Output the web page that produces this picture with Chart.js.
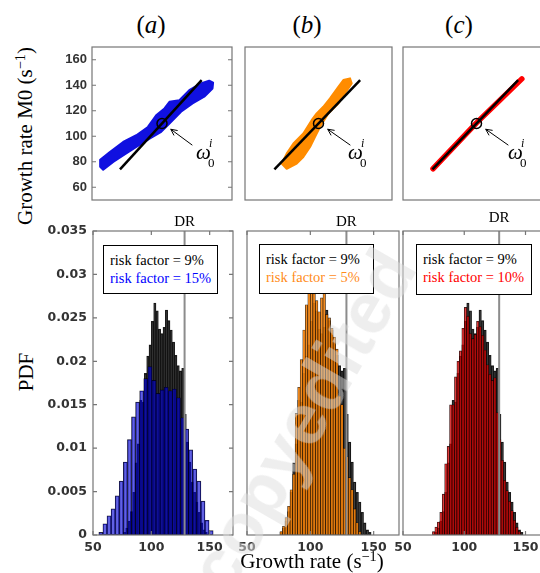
<!DOCTYPE html>
<html>
<head>
<meta charset="utf-8">
<script src="https://cdn.jsdelivr.net/npm/chart.js@4.4.1/dist/chart.umd.min.js"></script>
<style>
html, body { margin: 0; padding: 0; background: #fff; width: 540px; height: 573px; overflow: hidden; }
#fig { position: relative; width: 540px; height: 573px; font-family: "Liberation Serif", "DejaVu Serif", serif; }
canvas { position: absolute; }
.txt { position: absolute; white-space: nowrap; color: #000; line-height: 1; }
.ttl { font-size: 25px; transform: translate(-50%, -50%); }
.ax { font-size: 21px; transform: translate(-50%, -50%); }
.axv { font-size: 21px; transform: translate(-50%, -50%) rotate(-90deg); }
.dr { font-size: 15px; transform: translate(-50%, -50%); }
sup { font-size: 0.68em; vertical-align: 0; position: relative; top: -0.5em; }
.om { font-size: 21px; font-style: italic; }
.omi { font-size: 12px; font-style: italic; }
.om0 { font-size: 13px; }
.leg { position: absolute; background: #fff; border: 1px solid #000; box-sizing: border-box;
       font-size: 14.5px; line-height: 17.5px; padding: 6px 0 0 6px; white-space: nowrap; z-index: 5; }
.wm { position: absolute; left: 302px; top: 420px; transform: translate(-50%, -50%) rotate(-60deg);
      font: bold 72px "Liberation Sans", sans-serif; color: rgba(222,222,222,0.5); white-space: nowrap;
      z-index: 10; pointer-events: none; }
</style>
</head>
<body>
<div id="fig">
  <canvas id="topA" width="194" height="163" style="left:42px;top:40px"></canvas>
  <canvas id="topB" width="155" height="163" style="left:241px;top:40px"></canvas>
  <canvas id="topC" width="155" height="163" style="left:399px;top:40px"></canvas>
  <canvas id="botA" width="201" height="337" style="left:38px;top:223px"></canvas>
  <canvas id="botB" width="170" height="337" style="left:235px;top:223px"></canvas>
  <canvas id="botC" width="165" height="337" style="left:391px;top:223px"></canvas>

  <div class="txt ttl" style="left:151px;top:24px">(<i>a</i>)</div>
  <div class="txt ttl" style="left:307px;top:24px">(<i>b</i>)</div>
  <div class="txt ttl" style="left:459px;top:24px">(<i>c</i>)</div>

  <div class="txt axv" style="left:25px;top:136px">Growth rate M0 (s<sup>−1</sup>)</div>
  <div class="txt axv" style="left:26px;top:372px">PDF</div>
  <div class="txt ax" style="left:312px;top:561px">Growth rate (s<sup>−1</sup>)</div>

  <div class="txt om" style="left:196px;top:142px">ω</div>
  <div class="txt omi" style="left:209px;top:137px">i</div>
  <div class="txt om0" style="left:208px;top:156px">0</div>
  <div class="txt om" style="left:348px;top:142px">ω</div>
  <div class="txt omi" style="left:361px;top:137px">i</div>
  <div class="txt om0" style="left:360px;top:156px">0</div>
  <div class="txt om" style="left:508px;top:142px">ω</div>
  <div class="txt omi" style="left:521px;top:137px">i</div>
  <div class="txt om0" style="left:520px;top:156px">0</div>

  <div class="txt dr" id="drA" style="top:221px">DR</div>
  <div class="txt dr" id="drB" style="top:221px">DR</div>
  <div class="txt dr" id="drC" style="top:217px">DR</div>

  <div class="leg" style="left:103px;top:245px;width:115px;height:49px">
    <div>risk factor = 9%</div><div style="color:#0000ff">risk factor = 15%</div>
  </div>
  <div class="leg" style="left:259px;top:244px;width:115px;height:50px">
    <div>risk factor = 9%</div><div style="color:#ff8c1a">risk factor = 5%</div>
  </div>
  <div class="leg" style="left:416px;top:244px;width:116px;height:51px">
    <div>risk factor = 9%</div><div style="color:#ff0000">risk factor = 10%</div>
  </div>

  <div class="wm">copyedited</div>
</div>

<script>
// axis ranges and ticks
const AXIS_MIN = 50;
const AXIS_MAX = 170;
const M0_TICKS = [60, 80, 100, 120, 140, 160];
const RATE_TICKS = [50, 100, 150];
const PDF_TICKS = [0, 0.005, 0.01, 0.015, 0.02, 0.025, 0.03, 0.035];
const DR = 128.5;

// top row: nominal point, arrow to it, reference line
const OMEGA0_X = [110];
const OMEGA0_Y = [110];
const ARROW_X = [136, 117.5];
const ARROW_Y = [93, 105.5];
const REF_LINE_X = [74, 144];
const REF_LINE_Y = [74, 144];

// outlines of the sample clouds
const cloudA_X = [57, 57, 65.3, 76.7, 88, 97.9, 105, 112.1, 116.4, 124.9, 133.4, 143.3, 150.4, 153.8, 153.3, 146.2, 136.2, 126.3, 116.4, 109.3, 99.4, 88, 76.7, 68.2, 59.6, 57];
const cloudA_Y = [76, 81.6, 87.7, 95.5, 100.8, 107.3, 116.5, 121.8, 127, 128.3, 136.2, 141.5, 143.6, 142, 137.5, 131, 125.7, 119.2, 110, 103.4, 98.2, 91.6, 85, 79.8, 73.7, 76];
const cloudB_X = [79.9, 84, 89.5, 97.6, 104.4, 108.5, 113.9, 119.4, 126.2, 130.3, 135.7, 137.1, 131.6, 126.2, 118, 111.2, 107.1, 103.1, 97.6, 92.2, 84, 79.9];
const cloudB_Y = [78.5, 86.4, 94.3, 102.1, 112.6, 117.9, 123.1, 129.7, 138.8, 144.1, 145.4, 141.5, 133.6, 125.7, 117.9, 107.3, 99.4, 91.6, 83.7, 78.5, 74.5, 78.5];
const cloudC_X = [74.5, 110, 147];
const cloudC_Y = [74.5, 110.5, 145];

// histograms: reference (risk factor 9%)
const refBins = [76, 78, 80, 82, 84, 86, 88, 90, 92, 94, 96, 98, 100, 102, 104, 106, 108, 110, 112, 114, 116, 118, 120, 122, 124, 126, 128, 130, 132, 134, 136, 138, 140, 142, 144, 146];
const refPdf = [0.0003, 0.0008, 0.0016, 0.0027, 0.0049, 0.0083, 0.0105, 0.0155, 0.0153, 0.0186, 0.0206, 0.0219, 0.0246, 0.0267, 0.0258, 0.0237, 0.0232, 0.0239, 0.0259, 0.0247, 0.0236, 0.0222, 0.0207, 0.0195, 0.0189, 0.0192, 0.0139, 0.0107, 0.0084, 0.0061, 0.0049, 0.0038, 0.0026, 0.0014, 0.0006, 0.0003];

// risk factor 15%
const binsA = [58.5, 62, 65.5, 69, 72.5, 76, 79.5, 83, 86.5, 90, 93.5, 97, 100.5, 104, 107.5, 111, 114.5, 118, 121.5, 125, 128.5, 132, 135.5, 139, 142.5, 146, 149.5, 153];
const pdfA = [0.0003, 0.0013, 0.0022, 0.0030, 0.0045, 0.0062, 0.0084, 0.0110, 0.0136, 0.0153, 0.0166, 0.0180, 0.0194, 0.0178, 0.0163, 0.0167, 0.0170, 0.0166, 0.0168, 0.0158, 0.0135, 0.0122, 0.0098, 0.0076, 0.0062, 0.0039, 0.0017, 0.0005];

// risk factor 5%
const binsB = [78, 80, 82, 84, 86, 88, 90, 92, 94, 96, 98, 100, 102, 104, 106, 108, 110, 112, 114, 116, 118, 120, 122, 124, 126, 128, 130, 132, 134, 136, 138, 140];
const pdfB = [0.0004, 0.0010, 0.0020, 0.0033, 0.0052, 0.0070, 0.0140, 0.0170, 0.0202, 0.0236, 0.0265, 0.0292, 0.0298, 0.0278, 0.0270, 0.0257, 0.0273, 0.0288, 0.0254, 0.0250, 0.0238, 0.0228, 0.0214, 0.0160, 0.0150, 0.0100, 0.0090, 0.0066, 0.0052, 0.0030, 0.0014, 0.0004];

// risk factor 10%
const binsC = refBins;
const pdfC = [0.0004, 0.0009, 0.0015, 0.0026, 0.0047, 0.0082, 0.0102, 0.0150, 0.0150, 0.0182, 0.0200, 0.0212, 0.0238, 0.0262, 0.0252, 0.0232, 0.0226, 0.0231, 0.0246, 0.0240, 0.0230, 0.0213, 0.0196, 0.0185, 0.0178, 0.0181, 0.0141, 0.0110, 0.0086, 0.0063, 0.0051, 0.0039, 0.0028, 0.0017, 0.0009, 0.0004];

const pts = (xs, ys) => xs.map((x, i) => ({ x: x, y: ys[i] }));

// box round the plot area, with inward ticks on both sides
const framePlugin = {
    id: 'frame',
    afterDraw(chart, args, opts) {
        const { ctx, chartArea: a, scales } = chart;
        const len = 4;
        ctx.save();
        ctx.strokeStyle = '#767676';
        ctx.lineWidth = 1.2;
        ctx.strokeRect(a.left, a.top, a.width, a.height);
        ctx.beginPath();
        (opts.xTicks || []).forEach(v => {
            const px = scales.x.getPixelForValue(v);
            ctx.moveTo(px, a.top); ctx.lineTo(px, a.top + len);
            ctx.moveTo(px, a.bottom); ctx.lineTo(px, a.bottom - len);
        });
        (opts.yTicks || []).forEach(v => {
            const py = scales.y.getPixelForValue(v);
            ctx.moveTo(a.left, py); ctx.lineTo(a.left + len, py);
            ctx.moveTo(a.right, py); ctx.lineTo(a.right - len, py);
        });
        ctx.stroke();
        ctx.restore();
    }
};

// open arrow head at the last point of a dataset flagged arrowHead
const arrowPlugin = {
    id: 'arrowHead',
    afterDatasetsDraw(chart) {
        const ctx = chart.ctx;
        chart.data.datasets.forEach((ds, i) => {
            if (!ds.arrowHead) return;
            const el = chart.getDatasetMeta(i).data;
            const p = el[el.length - 2], q = el[el.length - 1];
            const ang = Math.atan2(q.y - p.y, q.x - p.x);
            ctx.save();
            ctx.strokeStyle = '#000';
            ctx.lineWidth = 1;
            ctx.beginPath();
            ctx.moveTo(q.x - 7 * Math.cos(ang - 0.45), q.y - 7 * Math.sin(ang - 0.45));
            ctx.lineTo(q.x, q.y);
            ctx.lineTo(q.x - 7 * Math.cos(ang + 0.45), q.y - 7 * Math.sin(ang + 0.45));
            ctx.stroke();
            ctx.restore();
        });
    }
};

// fixed axis size, and no extra room for the end labels
function fixSize(w, h) {
    return s => {
        if (w !== null) s.width = w;
        if (h !== null) s.height = h;
        s.paddingTop = 0; s.paddingBottom = 0;
        s.paddingLeft = 0; s.paddingRight = 0;
    };
}

function topChart(id, p) {
    return new Chart(document.getElementById(id), {
        type: 'line',
        data: {
            datasets: [
                { data: pts(OMEGA0_X, OMEGA0_Y), showLine: false, pointRadius: 5, pointBorderWidth: 1.5,
                  pointBorderColor: '#000', pointBackgroundColor: 'rgba(0,0,0,0)', order: 0 },
                { data: pts(ARROW_X, ARROW_Y), borderColor: '#000', borderWidth: 1, pointRadius: 0,
                  arrowHead: true, order: 1 },
                { data: pts(REF_LINE_X, REF_LINE_Y), borderColor: '#000', borderWidth: 2.5, pointRadius: 0, order: 2 },
                { data: pts(p.cloudX, p.cloudY), borderColor: p.color, backgroundColor: p.color,
                  borderWidth: p.edge, fill: p.fill, pointRadius: 0, borderCapStyle: 'round',
                  borderJoinStyle: 'round', order: 3 }
            ]
        },
        options: {
            responsive: false,
            animation: false,
            layout: { autoPadding: false, padding: { top: 7, bottom: 3, left: p.showY ? 0 : 4, right: 4 } },
            plugins: { legend: { display: false }, tooltip: { enabled: false },
                       frame: { yTicks: p.showY ? M0_TICKS : [] } },
            scales: {
                x: { type: 'linear', min: AXIS_MIN, max: AXIS_MAX, display: false },
                y: {
                    type: 'linear', min: AXIS_MIN, max: AXIS_MAX, display: p.showY,
                    afterBuildTicks: s => { s.ticks = M0_TICKS.map(v => ({ value: v })); },
                    afterFit: fixSize(p.showY ? 50 : 0, null),
                    grid: { display: false, drawTicks: false },
                    border: { display: false },
                    ticks: { padding: 5, color: '#333',
                             font: { family: 'Liberation Sans', weight: 'bold', size: 13 } }
                }
            }
        },
        plugins: [framePlugin, arrowPlugin]
    });
}

function pdfChart(id, p) {
    const chart = new Chart(document.getElementById(id), {
        type: 'bar',
        data: {
            datasets: [
                { type: 'line', data: pts([DR, DR], [0, PDF_TICKS[PDF_TICKS.length - 1]]), borderColor: '#8c8c8c',
                  borderWidth: 2, pointRadius: 0, xAxisID: 'x', order: 0 },
                { data: pts(p.bins, p.pdf), backgroundColor: p.barFill, borderColor: 'rgba(0,0,0,0.85)',
                  borderWidth: 0.6, borderSkipped: false, xAxisID: 'x', order: 1 },
                { data: pts(refBins, refPdf), backgroundColor: 'rgba(0,0,0,0.66)', borderColor: 'rgba(0,0,0,0.85)',
                  borderWidth: 0.6, borderSkipped: false, xAxisID: 'xb', order: 2 }
            ]
        },
        options: {
            responsive: false,
            animation: false,
            datasets: { bar: { categoryPercentage: 1, barPercentage: 1 } },
            layout: { autoPadding: false, padding: { top: 8, bottom: 0, left: p.showY ? 0 : 12, right: 6 } },
            plugins: { legend: { display: false }, tooltip: { enabled: false },
                       frame: { xTicks: RATE_TICKS, yTicks: p.showY ? PDF_TICKS : [] } },
            scales: {
                x: {
                    type: 'linear', min: AXIS_MIN, max: AXIS_MAX, offset: false,
                    afterBuildTicks: s => { s.ticks = RATE_TICKS.map(v => ({ value: v })); },
                    afterFit: fixSize(null, 25),
                    grid: { display: false, drawTicks: false, offset: false },
                    border: { display: false },
                    ticks: { padding: 5, color: '#333', maxRotation: 0,
                             font: { family: 'DejaVu Sans', weight: 'bold', size: 12.5 } }
                },
                xb: { type: 'linear', min: AXIS_MIN, max: AXIS_MAX, offset: false, display: false,
                      grid: { offset: false } },
                y: {
                    type: 'linear', min: 0, max: PDF_TICKS[PDF_TICKS.length - 1], display: p.showY,
                    afterBuildTicks: s => { s.ticks = PDF_TICKS.map(v => ({ value: v })); },
                    afterFit: fixSize(p.showY ? 55 : 0, null),
                    grid: { display: false, drawTicks: false },
                    border: { display: false },
                    ticks: { padding: 6, color: '#333', callback: v => String(v),
                             font: { family: 'DejaVu Sans', weight: 'bold', size: 12.5 } }
                }
            }
        },
        plugins: [framePlugin]
    });
    // bars as wide as one bin: spacing of the bin centres on their own scale
    [1, 2].forEach(i => {
        const ds = chart.data.datasets[i];
        const s = chart.scales[ds.xAxisID];
        ds.barThickness = s.getPixelForValue(ds.data[1].x) - s.getPixelForValue(ds.data[0].x);
    });
    chart.update();
    const lbl = document.getElementById(p.drLabel);
    lbl.style.left = (chart.canvas.offsetLeft + chart.scales.x.getPixelForValue(DR)) + 'px';
    return chart;
}

topChart('topA', { cloudX: cloudA_X, cloudY: cloudA_Y, color: '#1010e0', fill: 'shape', edge: 2, showY: true });
topChart('topB', { cloudX: cloudB_X, cloudY: cloudB_Y, color: '#ff8c00', fill: 'shape', edge: 2, showY: false });
topChart('topC', { cloudX: cloudC_X, cloudY: cloudC_Y, color: '#ff0000', fill: false, edge: 5.5, showY: false });

pdfChart('botA', { bins: binsA, pdf: pdfA, barFill: 'rgba(0,0,210,0.62)', showY: true, drLabel: 'drA' });
pdfChart('botB', { bins: binsB, pdf: pdfB, barFill: 'rgba(255,135,10,0.85)', showY: false, drLabel: 'drB' });
pdfChart('botC', { bins: binsC, pdf: pdfC, barFill: 'rgba(255,0,0,0.62)', showY: false, drLabel: 'drC' });
</script>
</body>
</html>
